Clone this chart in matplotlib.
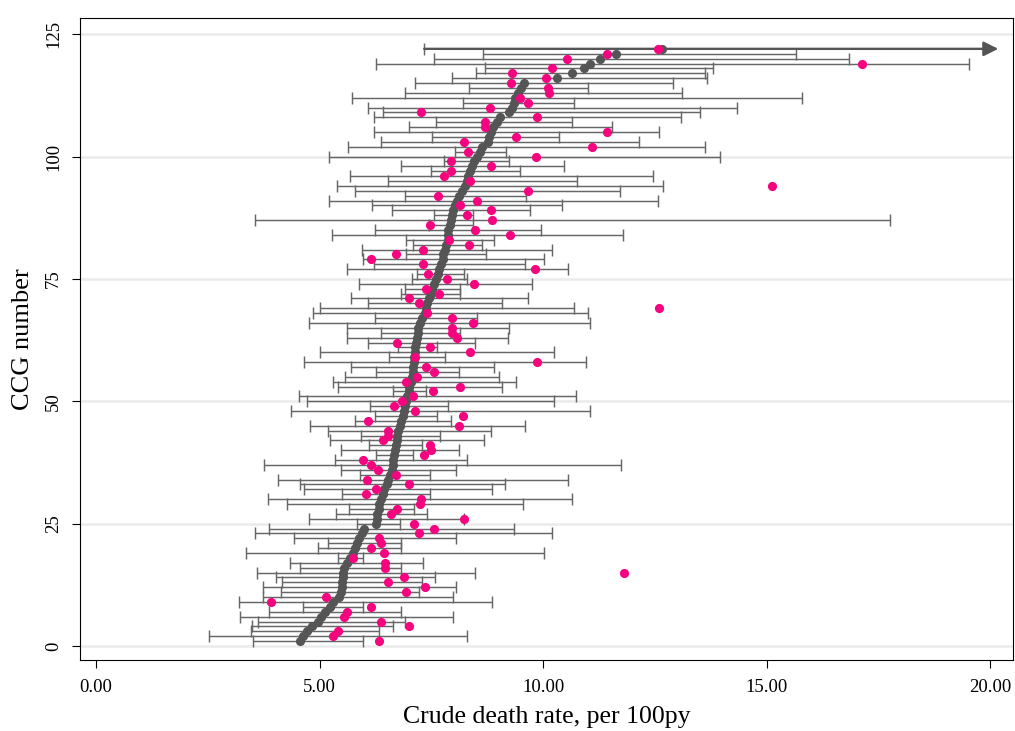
import numpy as np
import matplotlib
matplotlib.use("Agg")
import matplotlib.pyplot as plt

# ---------------- data (rows ordered by CCG number 1..122) ----------------
ccg = list(range(1, 123))

rate = [4.56, 4.62, 4.71, 4.83, 4.97, 5.03, 5.12, 5.24, 5.31, 5.44,
        5.47, 5.50, 5.50, 5.52, 5.53, 5.55, 5.61, 5.67, 5.74, 5.79,
        5.83, 5.89, 5.94, 6.00, 6.26, 6.28, 6.29, 6.32, 6.34, 6.37,
        6.41, 6.45, 6.50, 6.54, 6.58, 6.62, 6.64, 6.65, 6.67, 6.68,
        6.70, 6.73, 6.74, 6.76, 6.79, 6.82, 6.86, 6.89, 6.91, 6.94,
        6.95, 6.99, 7.01, 7.04, 7.06, 7.08, 7.10, 7.11, 7.12, 7.14,
        7.14, 7.16, 7.17, 7.20, 7.21, 7.25, 7.29, 7.35, 7.38, 7.41,
        7.45, 7.49, 7.52, 7.56, 7.60, 7.64, 7.68, 7.71, 7.75, 7.77,
        7.81, 7.83, 7.87, 7.88, 7.88, 7.91, 7.93, 7.96, 7.99, 8.03,
        8.07, 8.11, 8.18, 8.26, 8.29, 8.33, 8.37, 8.42, 8.46, 8.52,
        8.58, 8.63, 8.77, 8.78, 8.84, 8.89, 8.96, 9.04, 9.24, 9.30,
        9.34, 9.37, 9.43, 9.51, 9.57, 10.30, 10.65, 10.92, 11.05, 11.27,
        11.62, 12.65]

other_rate = [6.33, 5.30, 5.41, 7.01, 6.38, 5.55, 5.61, 6.15, 3.92, 5.15,
              6.93, 7.35, 6.53, 6.88, 11.80, 6.47, 6.47, 5.74, 6.44, 6.14,
              6.38, 6.32, 7.22, 7.55, 7.11, 8.24, 6.60, 6.73, 7.25, 7.27,
              6.03, 6.26, 6.99, 6.06, 6.70, 6.30, 6.15, 5.97, 7.33, 7.50,
              7.46, 6.43, 6.54, 6.53, 8.13, 6.09, 8.20, 7.14, 6.67, 6.85,
              7.10, 7.53, 8.14, 6.94, 7.19, 7.57, 7.38, 9.87, 7.13, 8.37,
              7.47, 6.73, 8.07, 7.96, 7.96, 8.44, 7.96, 7.41, 12.60, 7.23,
              6.99, 7.67, 7.38, 8.46, 7.85, 7.43, 9.82, 7.32, 6.15, 6.70,
              7.32, 8.35, 7.89, 9.25, 8.48, 7.48, 8.85, 8.29, 8.83, 8.14,
              8.53, 7.66, 9.66, 15.11, 8.37, 7.78, 7.94, 8.84, 7.94, 9.84,
              8.33, 11.09, 8.24, 9.40, 11.42, 8.70, 8.71, 9.86, 7.27, 8.82,
              9.66, 9.49, 10.14, 10.11, 9.28, 10.07, 9.30, 10.19, 17.14, 10.53,
              11.42, 12.56]

ci_low = [3.52, 2.53, 3.47, 3.49, 3.63, 3.22, 3.88, 4.64, 3.20, 3.73,
          4.14, 3.73, 4.16, 4.02, 3.59, 4.56, 4.33, 5.42, 3.36, 4.96,
          5.20, 4.43, 3.56, 3.88, 5.83, 4.77, 5.37, 5.65, 4.27, 3.85,
          5.51, 4.66, 4.56, 4.06, 5.91, 5.49, 3.76, 5.35, 6.26, 5.47,
          6.11, 5.24, 5.92, 5.20, 4.79, 5.79, 6.24, 4.37, 6.13, 4.73,
          4.53, 6.64, 5.41, 5.30, 5.57, 6.26, 5.71, 4.65, 6.56, 5.00,
          6.76, 6.08, 5.61, 6.37, 5.62, 4.77, 6.23, 4.85, 5.01, 6.08,
          5.71, 6.82, 6.91, 5.88, 7.06, 7.17, 5.62, 6.21, 5.97, 6.94,
          5.94, 7.10, 6.94, 5.28, 6.24, 7.45, 3.55, 7.55, 6.63, 6.17,
          5.22, 6.91, 5.79, 5.38, 6.53, 5.68, 7.50, 6.82, 7.79, 5.22,
          8.02, 5.64, 6.38, 7.51, 6.21, 6.99, 7.60, 6.21, 6.41, 6.08,
          8.20, 5.73, 6.92, 8.34, 7.13, 7.96, 8.51, 8.70, 6.27, 7.56,
          8.66, 7.34]

# upper limits; nan = beyond the plotted range (drawn as an arrow)
ci_high = [5.97, 8.29, 6.33, 6.65, 6.91, 7.98, 6.82, 5.97, 8.86, 7.98,
           7.23, 8.05, 7.29, 7.58, 8.48, 6.82, 7.32, 5.98, 10.02, 6.82,
           6.82, 8.05, 10.19, 9.35, 6.79, 8.23, 7.40, 7.11, 9.56, 10.64,
           7.46, 8.85, 9.15, 10.55, 7.47, 8.05, 11.75, 8.29, 7.10, 8.11,
           7.30, 8.68, 7.70, 8.83, 9.60, 7.94, 7.62, 11.04, 7.88, 10.25,
           10.74, 7.38, 9.08, 9.39, 9.02, 8.11, 8.90, 10.95, 7.80, 10.25,
           7.62, 8.48, 9.21, 8.14, 9.24, 11.05, 8.53, 11.01, 10.68, 9.08,
           9.67, 8.14, 8.14, 9.76, 8.30, 8.22, 10.55, 9.60, 10.01, 8.73,
           10.20, 8.64, 8.90, 11.78, 9.96, 8.44, 17.76, 8.43, 9.71, 10.43,
           12.57, 9.61, 11.72, 12.69, 10.75, 12.45, 9.49, 10.47, 9.24, 13.95,
           9.17, 13.61, 12.14, 10.35, 12.59, 11.55, 10.64, 13.08, 13.50, 14.33,
           10.70, 15.78, 13.11, 11.00, 12.91, 13.66, 13.63, 13.81, 19.52, 16.84,
           15.65, np.nan]

x_ticks = [0, 5, 10, 15, 20]
y_ticks = [0, 25, 50, 75, 100, 125]
x_label = "Crude death rate, per 100py"
y_label = "CCG number"

# ---------------- style ----------------
plt.rcParams['font.family'] = ['Liberation Serif', 'DejaVu Serif']
GREY = '#555555'
BAR = '#676767'
PINK = '#F5047F'
ARROW_END = 20.18

W, H = 1015, 731
fig = plt.figure(figsize=(W / 100, H / 100), dpi=100)
ax = fig.add_axes([80 / W, 1 - 660 / H, (1013 - 80) / W, (660 - 18) / H])
ax.set_xlim(-0.358, 20.51)
ax.set_ylim(-2.86, 128.3)

y = np.array(ccg, dtype=float)
r = np.array(rate)
lo = np.array(ci_low)
hi = np.array(ci_high)
ok = ~np.isnan(hi)

ax.errorbar(r[ok], y[ok], xerr=[r[ok] - lo[ok], hi[ok] - r[ok]], fmt='none',
            ecolor=BAR, elinewidth=1.05, capsize=4.2, capthick=1.05, zorder=2)
# off-scale upper limits: left cap + arrow
for yi, li in zip(y[~ok], lo[~ok]):
    ax.plot([li], [yi], marker='|', markersize=8.4, markeredgewidth=1.05,
            color=BAR, zorder=2)
    ax.annotate('', xy=(ARROW_END, yi), xytext=(li, yi),
                arrowprops=dict(arrowstyle='-|>', color='#555555', lw=1.7,
                                mutation_scale=22, shrinkA=0, shrinkB=0),
                zorder=2)

ax.plot(r, y, 'o', color=GREY, markersize=6.6, markeredgewidth=0, zorder=3)
ax.plot(other_rate, y, 'o', color=PINK, markersize=6.6, markeredgewidth=0,
        zorder=4)

ax.set_yticks(y_ticks)
ax.set_xticks(x_ticks)
ax.set_xticklabels([f"{v:.2f}" for v in x_ticks])
ax.grid(axis='y', color='#EBEBEB', linewidth=1.8)
ax.set_axisbelow(True)

ax.tick_params(axis='both', direction='out', length=6, width=0.8,
               colors='black', labelsize=13.5)
ax.tick_params(axis='x', pad=8)
ax.tick_params(axis='y', pad=7)
for t in ax.get_yticklabels():
    t.set_rotation(90)
    t.set_va('center')

for s in ax.spines.values():
    s.set_color('black')
    s.set_linewidth(0.8)

ax.set_xlabel(x_label, fontsize=18.5, labelpad=7)
ax.set_ylabel(y_label, fontsize=19, labelpad=8)

fig.savefig('out.png', dpi=100, facecolor='white')
